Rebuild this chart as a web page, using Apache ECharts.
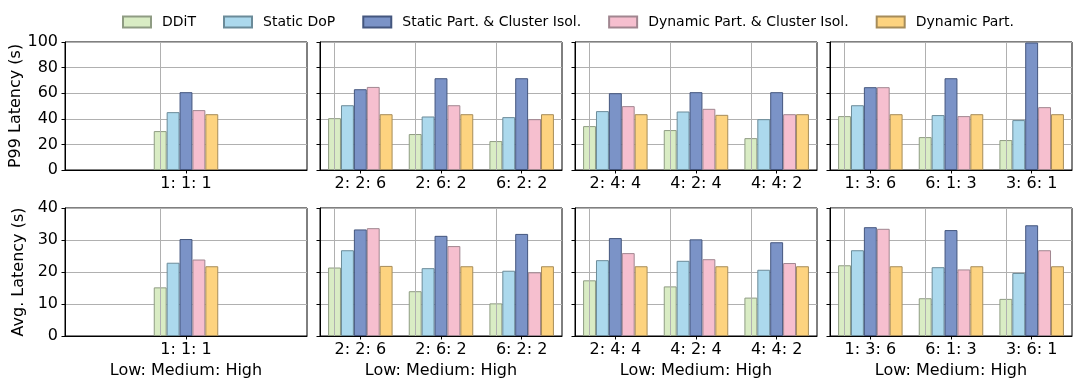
<!DOCTYPE html>
<html>
<head>
<meta charset="utf-8">
<script src="https://cdn.jsdelivr.net/npm/echarts@6/dist/echarts.min.js"></script>
<style>
html,body{margin:0;padding:0;background:#fff;}
#chart{width:1079px;height:386px;}
</style>
</head>
<body>
<div id="chart"></div>
<script>
// Categories (Low: Medium: High), grouped by panel
const categories = ['1: 1: 1', '2: 2: 6', '2: 6: 2', '6: 2: 2', '2: 4: 4', '4: 2: 4', '4: 4: 2', '1: 3: 6', '6: 1: 3', '3: 6: 1'];
const panelSlices = [[0, 1], [1, 4], [4, 7], [7, 10]];
const seriesNames = ['DDiT', 'Static DoP', 'Static Part. & Cluster Isol.', 'Dynamic Part. & Cluster Isol.', 'Dynamic Part.'];

// P99 latency (s)
const p99DDiT        = [30.4, 40.5, 28.1, 22.6, 34.3, 31.2, 24.9, 42.1, 25.7, 23.4];
const p99StaticDoP   = [45.2, 50.6, 41.8, 41.3, 46.0, 45.7, 39.7, 50.6, 42.9, 39.0];
const p99StaticPart  = [60.8, 63.1, 71.7, 71.7, 60.0, 60.8, 60.8, 64.7, 71.7, 99.6];
const p99DynPartIsol = [46.8, 64.9, 50.6, 39.7, 49.9, 47.8, 43.6, 64.7, 42.1, 49.1];
const p99DynPart     = [43.6, 43.6, 43.6, 43.6, 43.6, 43.1, 43.6, 43.6, 43.6, 43.6];

// Average latency (s)
const avgDDiT        = [15.2, 21.4, 14.0, 10.2, 17.4, 15.5, 12.0, 22.1, 11.8, 11.6];
const avgStaticDoP   = [22.9, 26.8, 21.2, 20.4, 23.7, 23.5, 20.7, 26.8, 21.5, 19.7];
const avgStaticPart  = [30.3, 33.3, 31.3, 31.9, 30.6, 30.2, 29.3, 34.0, 33.1, 34.6];
const avgDynPartIsol = [23.9, 33.7, 28.1, 19.9, 25.9, 24.0, 22.8, 33.5, 20.8, 26.8];
const avgDynPart     = [21.8, 21.9, 21.8, 21.8, 21.8, 21.8, 21.8, 21.8, 21.8, 21.8];

const p99Ticks = [0, 20, 40, 60, 80, 100];
const avgTicks = [0, 10, 20, 30, 40];

const rowsData = [
  [p99DDiT, p99StaticDoP, p99StaticPart, p99DynPartIsol, p99DynPart],
  [avgDDiT, avgStaticDoP, avgStaticPart, avgDynPartIsol, avgDynPart]
];
const rowTicks = [p99Ticks, avgTicks];
const rowNames = ['P99 Latency (s)', 'Avg. Latency (s)'];

const fills   = ['#d9ecc4', '#acd9ed', '#7b93c7', '#f6bfcf', '#fdd37f'];
const borders = ['#8f9c83', '#6b8b99', '#44567e', '#a18690', '#a68c5a'];

const FONT = 'DejaVu Sans';
const lefts = [65, 320, 575, 830];
const tops = [42, 208];
const W = 242, H = 128;

const grids = [], xAxes = [], yAxes = [], series = [];
let idx = 0;
for (let r = 0; r < 2; r++) {
  const ticks = rowTicks[r];
  for (let c = 0; c < 4; c++) {
    const [a, b] = panelSlices[c];
    const cats = categories.slice(a, b);
    grids.push({left: lefts[c], top: tops[r], width: W, height: H, show: true,
      borderColor: '#000', borderWidth: 1, backgroundColor: 'transparent', containLabel: false});
    xAxes.push({
      type: 'category', gridIndex: idx, data: cats,
      axisLine: {show: true, lineStyle: {color: '#000', width: 1}},
      axisTick: {show: true, alignWithLabel: true, length: 3.5, lineStyle: {color: '#000'}},
      axisLabel: {fontSize: 16, color: '#000', fontFamily: FONT, margin: 6},
      splitLine: {show: false},
      name: r === 1 ? 'Low: Medium: High' : '',
      nameLocation: 'middle', nameGap: 27,
      nameTextStyle: {fontSize: 16, color: '#000', fontFamily: FONT}
    });
    yAxes.push({
      type: 'value', gridIndex: idx, min: ticks[0], max: ticks[ticks.length - 1],
      interval: ticks[1] - ticks[0],
      axisLine: {show: true, lineStyle: {color: '#000', width: 1}},
      axisTick: {show: true, length: 3.5, lineStyle: {color: '#000'}},
      axisLabel: {show: c === 0, fontSize: 16, color: '#000', fontFamily: FONT, margin: 7},
      splitLine: {show: true, lineStyle: {color: '#b0b0b0', width: 1}},
      name: c === 0 ? rowNames[r] : '',
      nameLocation: 'middle', nameGap: 38, nameRotate: 90,
      nameTextStyle: {fontSize: 16, color: '#000', fontFamily: FONT}
    });
    for (let s = 0; s < 5; s++) {
      const ser = {
        type: 'bar', name: seriesNames[s], xAxisIndex: idx, yAxisIndex: idx,
        data: rowsData[r][s].slice(a, b),
        barWidth: 12.9, barGap: '0%',
        itemStyle: {color: fills[s], borderColor: borders[s], borderWidth: 1},
        emphasis: {disabled: true}
      };
      if (s === 0) {
        ser.markLine = {
          silent: true, symbol: 'none', label: {show: false},
          lineStyle: {color: '#b0b0b0', width: 1, type: 'solid'},
          emphasis: {disabled: true},
          data: cats.map(ct => ({xAxis: ct}))
        };
      }
      series.push(ser);
    }
    idx++;
  }
}

const chart = echarts.init(document.getElementById('chart'), null, {renderer: 'canvas'});
chart.setOption({
  animation: false,
  backgroundColor: '#fff',
  legend: {
    left: 117, top: 10, itemWidth: 28, itemHeight: 11, itemGap: 27, icon: 'rect',
    data: seriesNames,
    textStyle: {fontSize: 14, color: '#000', fontFamily: FONT, padding: [0, 0, 0, 6]}
  },
  grid: grids, xAxis: xAxes, yAxis: yAxes, series: series
});
</script>
</body>
</html>
